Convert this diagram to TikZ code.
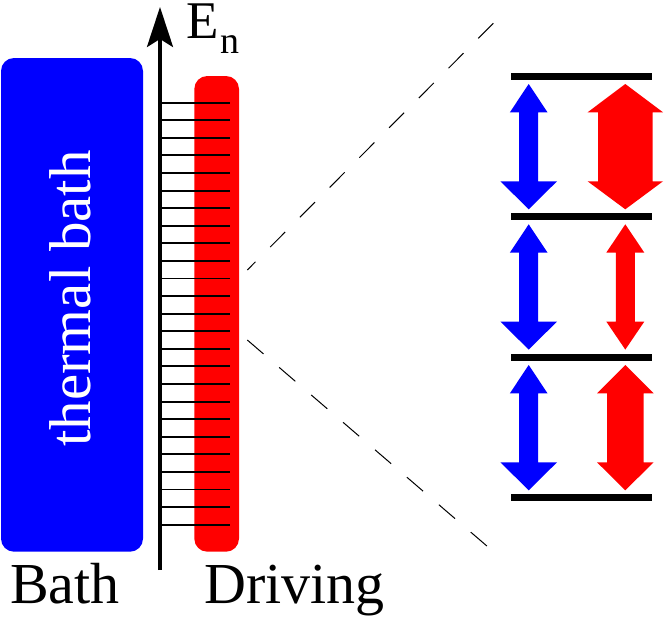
\documentclass[tikz,border=0pt]{standalone}
\usepackage{fontspec}
\setmainfont{Liberation Serif}
\usetikzlibrary{arrows.meta}

\tikzset{
  biglabel/.style={font=\fontsize{58}{60}\selectfont, inner sep=0pt},
  axislabel/.style={font=\fontsize{53}{55}\selectfont, inner sep=0pt},
  sublabel/.style={font=\fontsize{38}{40}\selectfont, inner sep=0pt},
  zoomline/.style={line width=1pt, dash pattern=on 21.3pt off 20.8pt},
  levelline/.style={line width=7pt}
}

\begin{document}
\begin{tikzpicture}[x=1pt,y=-1pt]
\useasboundingbox (0,0) rectangle (664,621);

% bath and driving bars
\fill[blue, rounded corners=13pt] (1,58) rectangle (143,551.7);
\fill[red, rounded corners=13pt] (194.3,76) rectangle (239,551.7);
\node[biglabel, white, rotate=90, anchor=base, font=\fontsize{59}{60}\selectfont] (thermal) at (90,298.5) {thermal bath};

% energy axis and levels
\foreach \n in {0,...,24}
    \draw[line width=1.9pt] (160,102.7+17.58*\n) -- (230,102.7+17.58*\n);
\coordinate (axisbot) at (160,570);
\coordinate (axistop) at (160,7);
\draw[-{Stealth[length=40pt,width=26pt,inset=8pt]}, line width=3.6pt] (axisbot) -- (axistop);
\node[axislabel, anchor=base west] (energy) at (186.5,38) {E};
\node[sublabel, anchor=base west] (index) at (220,53) {n};
\node[biglabel, anchor=base west] (bath) at (10,603.5) {Bath};
\node[biglabel, anchor=base west] (driving) at (204,603.5) {Driving};

% zoom lines
\coordinate (zoomtopA) at (493.3,23.3);
\coordinate (zoomtopB) at (247.3,270);
\coordinate (zoombotA) at (247.3,340);
\coordinate (zoombotB) at (487.7,546.7);
\draw[zoomline] (zoomtopA) -- (zoomtopB);
\draw[zoomline] (zoombotA) -- (zoombotB);

% close-up levels
\foreach \y in {76.7,216.7,357,497.7}
    \draw[levelline] (511,\y) -- (651.7,\y);

% double arrows: colour, centre, tip, half shaft, half heads
\foreach \col/\xc/\yt/\hs/\ha/\hb in {
    blue/528.7/84/9.5/18.8/28.3,
    blue/528.7/224.3/9.5/18.8/28.3,
    blue/528.7/365/9.5/18.8/28.3,
    red/625.3/84/27.2/37.7/37.7,
    red/625.3/224.3/9.5/19/19,
    red/625.3/365/18.3/28.3/28.3}
    \fill[\col] (\xc,\yt) -- ({\xc+\ha},{\yt+28.3}) -- ({\xc+\hs},{\yt+28.3})
        -- ({\xc+\hs},{\yt+97.3}) -- ({\xc+\hb},{\yt+97.3}) -- (\xc,{\yt+125.3})
        -- ({\xc-\hb},{\yt+97.3}) -- ({\xc-\hs},{\yt+97.3}) -- ({\xc-\hs},{\yt+28.3})
        -- ({\xc-\ha},{\yt+28.3}) -- cycle;
\end{tikzpicture}
\end{document}
